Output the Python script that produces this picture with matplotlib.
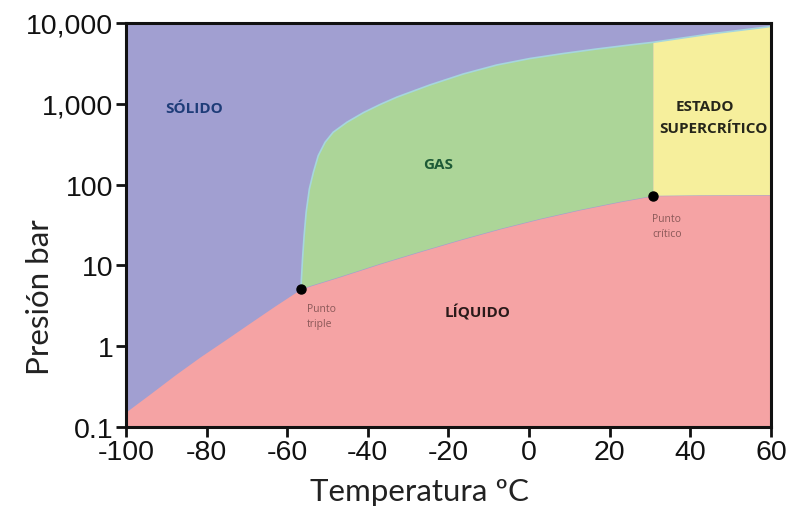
import matplotlib.pyplot as plt

# Diagrama de fases del CO2 (temperatura en ºC, presión en bar)
triple_T, triple_P = -56.6, 5.1
critico_T, critico_P = 30.8, 72.5

# curva sólido-líquido (izquierda del punto triple)
sol_liq_T = [-100.0, -94.0, -87.8, -81.6, -75.4, -69.2, -63.0, triple_T]
sol_liq_P = [0.153, 0.256, 0.44, 0.735, 1.19, 1.94, 3.15, triple_P]

# curva líquido-gas hasta el punto crítico
liq_gas_T = [triple_T, -46.9, -37.0, -27.1, -17.1, -7.2, 2.7, 12.6, 22.5, critico_T]
liq_gas_P = [triple_P, 7.2, 10.4, 14.7, 20.6, 28.2, 37.5, 48.5, 61.0, critico_P]

# límite superior del líquido por encima del punto crítico
liq_sup_T = [critico_T, 42.4, 60.0]
liq_sup_P = [critico_P, 73.5, 74.0]

# curva sólido-gas
sol_gas_T = [triple_T, -56.2, -55.8, -55.3, -54.5, -53.5, -52.3, -50.6, -48.6, -45.2,
             -41.1, -37.0, -32.8, -24.6, -16.3, -8.0, 0.2, 8.5, 16.8, 25.0, critico_T]
sol_gas_P = [triple_P, 12.0, 23.3, 45.4, 88.3, 142, 228, 334, 444, 590,
             776, 977, 1208, 1710, 2339, 3020, 3631, 4188, 4764, 5344, 5770]

# límite sólido-supercrítico
sol_sc_T = [critico_T, 44.9, 59.0, 60.0]
sol_sc_P = [5770, 7310, 8913, 9100]

x_ticks = [-100, -80, -60, -40, -20, 0, 20, 40, 60]
y_ticks = [0.1, 1, 10, 100, 1000, 10000]
y_labels = ['0.1', '1', '10', '100', '1,000', '10,000']

c_solido = '#a19fd1'
c_gas = '#acd598'
c_liquido = '#f5a3a4'
c_super = '#f6ef9c'

fig = plt.figure(figsize=(7.92, 5.10), dpi=100)
ax = fig.add_axes([0.159, 0.161, 0.8145, 0.792])
ax.set_yscale('log')
ax.set_facecolor(c_solido)

# líquido: todo lo que queda bajo las curvas inferiores
liq_T = sol_liq_T + liq_gas_T[1:] + liq_sup_T[1:]
liq_P = sol_liq_P + liq_gas_P[1:] + liq_sup_P[1:]
ax.fill_between(liq_T, 0.01, liq_P, color=c_liquido, lw=0)

# gas
ax.fill(sol_gas_T + liq_gas_T[::-1], sol_gas_P + liq_gas_P[::-1], color=c_gas, lw=0)

# estado supercrítico
ax.fill(sol_sc_T + liq_sup_T[::-1], sol_sc_P + liq_sup_P[::-1], color=c_super, lw=0)

# borde claro entre sólido y gas
ax.plot(sol_gas_T + sol_sc_T[1:], sol_gas_P + sol_sc_P[1:], color='#a6d6de', lw=1.2,
        solid_joinstyle='round')

ax.plot([triple_T, critico_T], [triple_P, critico_P], 'o', color='black', ms=6.5)

ax.set_xlim(-100, 60)
ax.set_ylim(0.1, 10000)
ax.set_xticks(x_ticks)
ax.set_xticklabels([str(t) for t in x_ticks])
ax.set_yticks(y_ticks)
ax.set_yticklabels(y_labels)
ax.minorticks_off()

for s in ax.spines.values():
    s.set_linewidth(2.2)
    s.set_color('#111111')
ax.tick_params(length=7, width=2, pad=2, labelsize=20.5, colors='#111111')
for lab in ax.get_xticklabels() + ax.get_yticklabels():
    lab.set_family('Liberation Sans')

fig.text(0.529, 0.036, 'Temperatura ºC', ha='center', va='center',
         family='Lato', fontsize=22.5, color='#222222')
fig.text(0.051, 0.418, 'Presión bar', ha='center', va='center', rotation=90,
         family='Lato', fontsize=22.5, color='#222222')

rotulo = dict(family='Open Sans', weight='bold', fontsize=11, ha='center', va='center')
ax.text(-83.1, 887, 'SÓLIDO', color='#1e3c78', **rotulo)
ax.text(-22.6, 180, 'GAS', color='#1d5a36', **rotulo)
ax.text(-12.9, 2.65, 'LÍQUIDO', color='#2a1a1a', **rotulo)
ax.text(43.5, 940, 'ESTADO', color='#26261a', **rotulo)
ax.text(45.6, 500, 'SUPERCRÍTICO', color='#26261a', **rotulo)

nota = dict(family='Open Sans', fontsize=7.5, color='#8a5858', ha='left', va='top',
            linespacing=1.5)
ax.text(-55.1, 3.4, 'Punto\ntriple', **nota)
ax.text(30.5, 45, 'Punto\ncrítico', **nota)

fig.savefig('out.png', dpi=100)
